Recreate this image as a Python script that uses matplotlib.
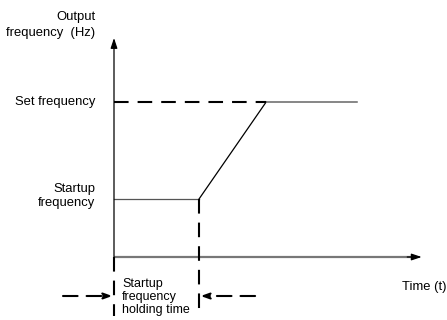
import matplotlib.pyplot as plt

plt.rcParams['font.family'] = ['Liberation Sans', 'DejaVu Sans']
plt.rcParams['lines.scale_dashes'] = False

# frequency profile (time in units of holding time, frequency relative to set frequency)
time_pts = [0.0, 1.0, 1.79, 2.86]
freq_pts = [0.374, 0.374, 1.0, 1.0]
set_freq = 1.0
startup_freq = 0.374
hold_end = 1.0

y_label = "Output\nfrequency  (Hz)"
x_label = "Time (t)"
freq_labels = ["Set frequency", "Startup\nfrequency"]
hold_label = "Startup\nfrequency\nholding time"

W, H = 447, 320
ox, oy = 114, 257      # origin in pixels
sx, sy = 85.0, 155.0   # pixels per unit

fig = plt.figure(figsize=(W / 100, H / 100), dpi=100)
ax = fig.add_axes([0, 0, 1, 1])
ax.set_xlim(-ox / sx, (W - ox) / sx)
ax.set_ylim(-(H - oy) / sy, oy / sy)
ax.axis('off')

dash = (0, (10.5, 6.5))
fs = 9.4

# axes with arrows
ax.annotate('', xy=(0, 1.413), xytext=(0, 0),
            arrowprops=dict(arrowstyle='-|>,head_length=0.6,head_width=0.2', color='black', lw=0.9,
                            shrinkA=0, shrinkB=0))
ax.plot([0, 3.5], [0, 0], color='#777777', lw=1.6, solid_capstyle='butt')
ax.annotate('', xy=(3.62, 0), xytext=(3.45, 0),
            arrowprops=dict(arrowstyle='-|>,head_length=0.6,head_width=0.2', color='black', lw=0.9,
                            shrinkA=0, shrinkB=0))

# frequency curve
ax.plot(time_pts[:2], freq_pts[:2], color='#555555', lw=0.9)
ax.plot(time_pts[1:3], freq_pts[1:3], color='black', lw=0.9)
ax.plot(time_pts[2:], freq_pts[2:], color='#666666', lw=1.1)

# dashed guides
ax.plot([0, time_pts[2]], [set_freq, set_freq], color='black', lw=1.5, linestyle=dash)
y_bot = -(316 - oy) / sy
ax.plot([hold_end, hold_end], [startup_freq, y_bot], color='black', lw=1.5, linestyle=dash)
ax.plot([0, 0], [0, y_bot], color='black', lw=1.5, linestyle=dash)

# dashed arrows for holding time
ya = -(296 - oy) / sy
for x0, x1 in [(-0.6, -0.02), (1.66, 1.02)]:
    ax.annotate('', xy=(x1, ya), xytext=(x0, ya),
                arrowprops=dict(arrowstyle='-|>,head_length=0.5,head_width=0.18', color='black', lw=1.5,
                                linestyle=dash, shrinkA=0, shrinkB=0))

# labels
lx = (95 - ox) / sx
ax.text(lx, (257 - 25) / sy, y_label, ha='right', va='center', fontsize=fs, linespacing=1.45)
ax.text(lx, set_freq, freq_labels[0], ha='right', va='center', fontsize=fs)
ax.text(lx, startup_freq + 0.02, freq_labels[1], ha='right', va='center', fontsize=fs, linespacing=1.3)
ax.text((122 - ox) / sx, ya - 0.005, hold_label, ha='left', va='center', fontsize=9.0, linespacing=1.1)
ax.text((402 - ox) / sx, -(287 - oy) / sy, x_label, ha='left', va='center', fontsize=fs)

fig.savefig('out.png', dpi=100)
